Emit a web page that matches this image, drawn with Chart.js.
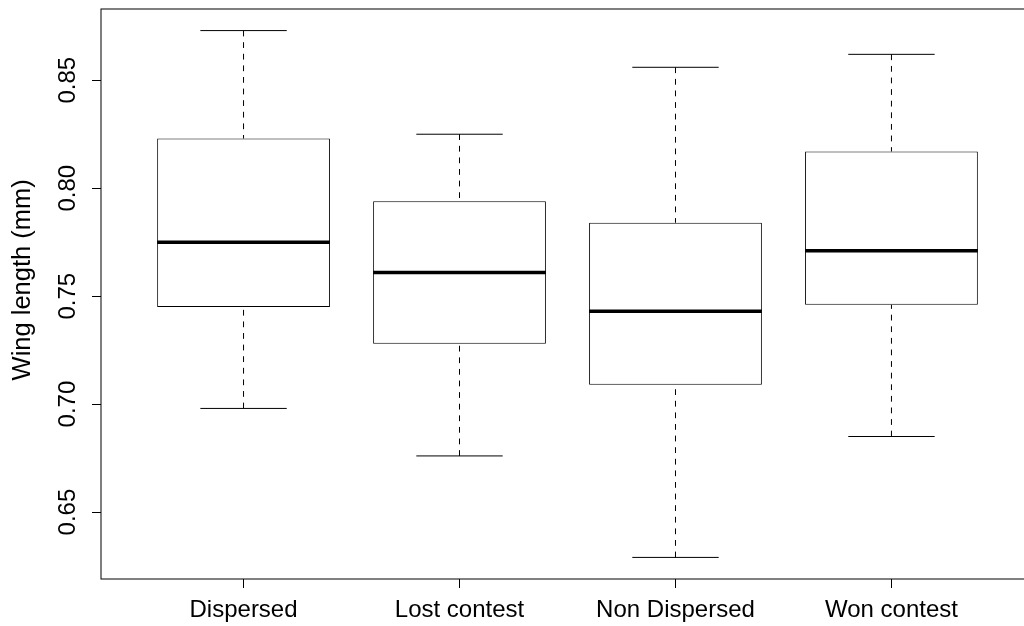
<!DOCTYPE html>
<html>
<head>
<meta charset="utf-8">
<script src="https://cdn.jsdelivr.net/npm/chart.js@4/dist/chart.umd.min.js"></script>
<style>
html, body { margin: 0; padding: 0; background: #fff; overflow: hidden; }
#wrap { width: 1040px; height: 626px; }
</style>
</head>
<body>
<div id="wrap"><canvas id="myChart" width="1040" height="626"></canvas></div>
<script>
// boxplot stats per group
var groups = ["Dispersed", "Lost contest", "Non Dispersed", "Won contest"];
var groupPos = [1, 2, 3, 4];
var whiskerLow = [0.698, 0.676, 0.629, 0.685];
var boxLow = [0.745, 0.728, 0.709, 0.746];
var medians = [0.775, 0.761, 0.743, 0.771];
var boxHigh = [0.823, 0.794, 0.784, 0.817];
var whiskerHigh = [0.873, 0.825, 0.856, 0.862];
var yTicks = [0.65, 0.70, 0.75, 0.80, 0.85];

var fontFamily = "'Liberation Sans', Arial, Helvetica, sans-serif";

//draws whiskers, caps, medians and the frame round the plot
var boxPlotLines = {
    id: 'boxPlotLines',
    afterDatasetsDraw: function (chart) {
        var c = chart.ctx;
        var xs = chart.scales.x;
        var ys = chart.scales.y;
        var meta = chart.getDatasetMeta(0);
        var area = chart.chartArea;

        function seg(x1, y1, x2, y2) {
            c.beginPath();
            c.moveTo(x1, y1);
            c.lineTo(x2, y2);
            c.stroke();
        }

        c.save();
        c.strokeStyle = '#000';
        for (var i = 0; i < groups.length; i++) {
            var cx = xs.getPixelForValue(groupPos[i]);
            var half = meta.data[i].width / 2;
            var yMin = ys.getPixelForValue(whiskerLow[i]);
            var yMax = ys.getPixelForValue(whiskerHigh[i]);
            var yMed = ys.getPixelForValue(medians[i]);

            //whiskers
            c.lineWidth = 1;
            c.setLineDash([5.8, 5.8]);
            seg(cx, yMax, cx, ys.getPixelForValue(boxHigh[i]));
            seg(cx, yMin, cx, ys.getPixelForValue(boxLow[i]));
            c.setLineDash([]);

            //staples
            seg(cx - half / 2, yMax, cx + half / 2, yMax);
            seg(cx - half / 2, yMin, cx + half / 2, yMin);

            //median
            c.lineWidth = 3.5;
            seg(cx - half, yMed, cx + half, yMed);
        }
        c.lineWidth = 1;
        c.strokeRect(area.left, area.top, area.right - area.left, area.bottom - area.top);
        c.restore();
    }
};

function main() {
    var ctx = document.getElementById("myChart").getContext("2d");
    var boxes = [];
    for (var i = 0; i < groups.length; i++) {
        boxes.push({x: groupPos[i], y: [boxLow[i], boxHigh[i]]});
    }

    new Chart(ctx, {
        type: 'bar',
        data: {
            datasets: [
                {
                    data: boxes,
                    backgroundColor: "#ffffff",
                    borderColor: "#000000",
                    borderWidth: 1,
                    borderSkipped: false,
                    barPercentage: 0.8,
                    categoryPercentage: 1.0
                }]
        },
        options: {
            responsive: false,
            animation: false,
            layout: {
                padding: {top: 9, right: 6, bottom: 0, left: 0}
            },
            plugins: {
                legend: {display: false},
                tooltip: {enabled: false}
            },
            scales: {
                x: {
                    type: 'linear',
                    offset: false,
                    min: 0.34,
                    max: 4.66,
                    afterBuildTicks: function (scale) {
                        scale.ticks = groupPos.map(function (v) { return {value: v}; });
                    },
                    afterFit: function (scale) {
                        scale.height = 47;
                        scale.paddingLeft = 0;
                        scale.paddingRight = 0;
                    },
                    ticks: {
                        autoSkip: false,
                        maxRotation: 0,
                        padding: 8,
                        color: '#000',
                        font: {family: fontFamily, size: 24},
                        callback: function (value) {
                            return groups[groupPos.indexOf(value)];
                        }
                    },
                    grid: {
                        offset: false,
                        drawOnChartArea: false,
                        drawTicks: true,
                        tickLength: 9,
                        color: '#000',
                        tickColor: '#000'
                    },
                    border: {display: false}
                },
                y: {
                    type: 'linear',
                    min: 0.619,
                    max: 0.883,
                    afterBuildTicks: function (scale) {
                        scale.ticks = yTicks.map(function (v) { return {value: v}; });
                    },
                    afterFit: function (scale) {
                        scale.width = 101;
                        scale.paddingTop = 0;
                        scale.paddingBottom = 0;
                    },
                    ticks: {
                        minRotation: 90,
                        maxRotation: 90,
                        crossAlign: 'center',
                        padding: 0,
                        color: '#000',
                        font: {family: fontFamily, size: 24},
                        callback: function (value) {
                            return value.toFixed(2);
                        }
                    },
                    grid: {
                        drawOnChartArea: false,
                        drawTicks: true,
                        tickLength: 9,
                        color: '#000',
                        tickColor: '#000'
                    },
                    border: {display: false},
                    title: {
                        display: true,
                        text: '    Wing length (mm)',
                        color: '#000',
                        font: {family: fontFamily, size: 25.5},
                        padding: {top: 8, bottom: 0}
                    }
                }
            }
        },
        plugins: [boxPlotLines]
    });
}

window.onload = main;
</script>
</body>
</html>
